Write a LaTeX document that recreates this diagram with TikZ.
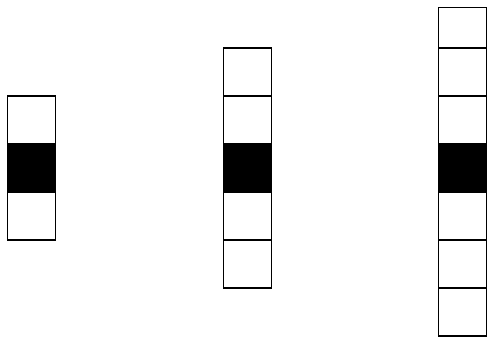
\documentclass[tikz,border=0pt]{standalone}
\usepackage{tikz}
\usetikzlibrary{positioning}

\begin{document}
\begin{tikzpicture}[
    x=0.03cm,y=-0.03cm,
    node distance=0pt and 0pt,
    cell/.style={draw=black,line width=1.3pt,inner sep=0pt,outer sep=0pt,
      minimum size=1.44cm,fill=white},
    hole/.style={cell,fill=black}]
    \useasboundingbox (0,0) rectangle (487,338);
    % left column
    \node[cell] (l1) at (31.3,120) {};
    \node[hole,below=of l1] (l2) {};
    \node[cell,below=of l2] (l3) {};
    % middle column
    \node[cell] (m1) at (247.3,72) {};
    \node[cell,below=of m1] (m2) {};
    \node[hole,below=of m2] (m3) {};
    \node[cell,below=of m3] (m4) {};
    \node[cell,below=of m4] (m5) {};
    % right column (top cell cut short)
    \node[cell,minimum height=1.22cm] (r1) at (462.5,27.7) {};
    \node[cell,below=of r1] (r2) {};
    \node[cell,below=of r2] (r3) {};
    \node[hole,below=of r3] (r4) {};
    \node[cell,below=of r4] (r5) {};
    \node[cell,below=of r5] (r6) {};
    \node[cell,below=of r6] (r7) {};
  \end{tikzpicture}
\end{document}
